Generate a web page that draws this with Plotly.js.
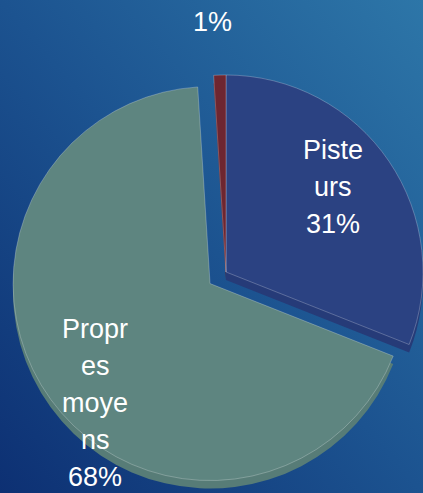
<!DOCTYPE html>
<html>
<head>
<meta charset="utf-8">
<script src="https://cdn.plot.ly/plotly-3.0.1.min.js"></script>
<style>
  html, body { margin: 0; padding: 0; width: 423px; height: 493px; overflow: hidden; }
  #wrap { position: relative; width: 423px; height: 493px; overflow: hidden;
          background: linear-gradient(to top right, #0d3073, #1c5390 50%, #2d76a8); }
  #chart { position: absolute; left: 0; top: 0; width: 460px; height: 520px; }
</style>
</head>
<body>
<div id="wrap"><div id="chart"></div></div>
<script>
const labels = ["Pisteurs", "Propres moyens", "Autres"];
const wrappedLabels = [["Piste", "urs"], ["Propr", "es", "moye", "ns"], []];
const values = [31, 68, 1];
const sliceColors = ["#2b4282", "#5e8580", "#6e2630"];
const sideColors = ["#263b78", "#577c77", "#5e1f28"];
const pulls = [0, 0.1, 0];

const FIG_W = 460, FIG_H = 520, FONT = 27, LINE = 37;
// label block anchors (pixel: centre x, baseline of first line)
const labelAnchors = [[333, 160], [95, 339], [212, 32]];

const total = values.reduce((a, b) => a + b, 0);
const annotations = [];
values.forEach((v, i) => {
  const lines = wrappedLabels[i].concat([Math.round(v / total * 100) + "%"]);
  lines.forEach((ln, k) => {
    const px = labelAnchors[i][0];
    const base = labelAnchors[i][1] + k * LINE;
    const cy = base - 0.36 * FONT;
    annotations.push({
      xref: "paper", yref: "paper",
      x: px / FIG_W, y: (FIG_H - cy) / FIG_H,
      xanchor: "center", yanchor: "middle",
      text: ln, showarrow: false,
      font: { family: "Liberation Sans, Arial, sans-serif", size: FONT, color: "#ffffff" }
    });
  });
});

const sideTrace = {
  type: "pie", labels: labels, values: values, sort: false,
  direction: "clockwise", rotation: 0, pull: pulls,
  marker: { colors: sideColors, line: { width: 0 } },
  textinfo: "none", hoverinfo: "skip", showlegend: false,
  domain: { x: [0.0202, 0.9624], y: [0.0448, 0.8783] }
};

const faceTrace = {
  type: "pie", labels: labels, values: values, sort: false,
  direction: "clockwise", rotation: 0, pull: pulls,
  textinfo: "none",
  marker: { colors: sliceColors, line: { color: "rgba(255,255,255,0.35)", width: 0.7 } },
  showlegend: false,
  domain: { x: [0.0202, 0.9624], y: [0.0602, 0.8937] }
};

Plotly.newPlot("chart", [sideTrace, faceTrace], {
  width: FIG_W, height: FIG_H,
  margin: { l: 0, r: 0, t: 0, b: 0 },
  paper_bgcolor: "rgba(0,0,0,0)", plot_bgcolor: "rgba(0,0,0,0)",
  showlegend: false,
  annotations: annotations
}, { displayModeBar: false, staticPlot: true });
</script>
</body>
</html>
